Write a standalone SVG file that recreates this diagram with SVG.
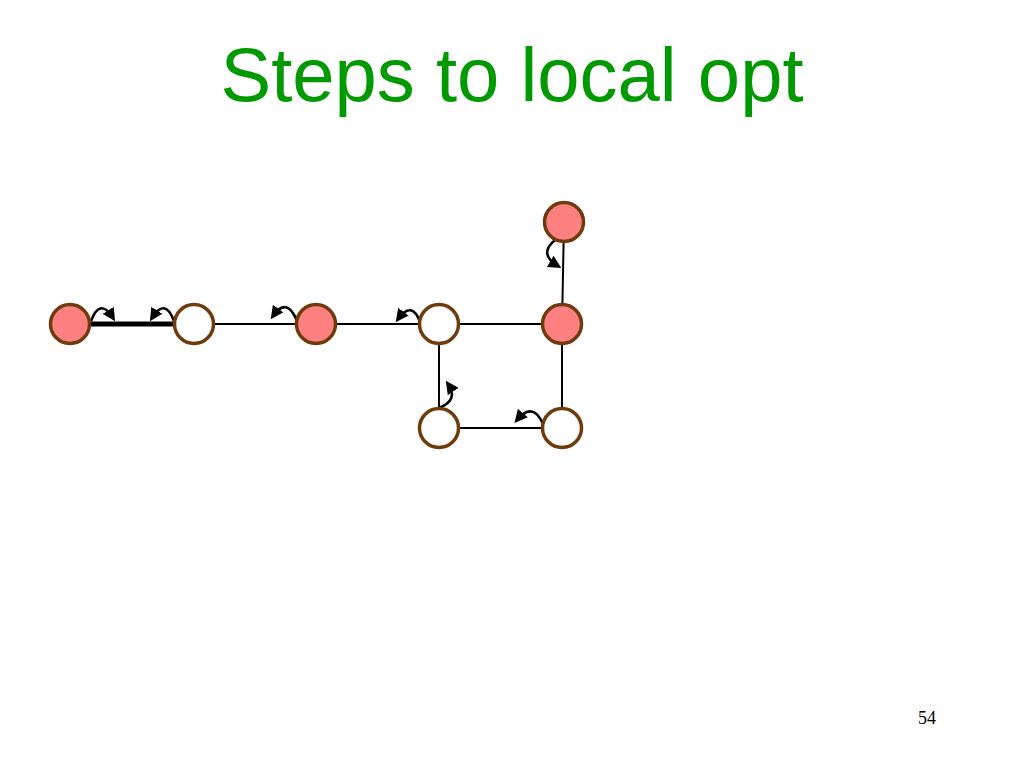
<svg xmlns="http://www.w3.org/2000/svg" width="1024" height="768" viewBox="0 0 1024 768">
<defs>
<style>
.node{stroke:#6E3B0C;stroke-width:3.5}
.pink{fill:#FF8080}
.white{fill:#FFFFFF}
.edge{stroke:#000;stroke-width:2;fill:none}
.thick{stroke-width:5}
.arr{stroke:#000;stroke-width:2.6;fill:none;marker-end:url(#ah)}
</style>
<marker id="ah" markerUnits="userSpaceOnUse" markerWidth="13" markerHeight="13" viewBox="0 0 10 10" refX="7" refY="5" orient="auto">
<path d="M0,0 L10,5 L0,10 Z" fill="#000"/>
</marker>
</defs>
<rect width="1024" height="768" fill="#fff"/>
<text x="512" y="101" text-anchor="middle" font-family="Liberation Sans, Arial, sans-serif" font-size="76" fill="#009900">Steps to local opt</text>
<text x="927" y="724" text-anchor="middle" font-family="Liberation Serif, Times New Roman, serif" font-size="18" fill="#000">54</text>
<g id="connectors">
<line class="edge thick" x1="70" y1="324" x2="194" y2="324"/>
<line class="edge" x1="194" y1="324" x2="316" y2="324"/>
<line class="edge" x1="316" y1="324" x2="439" y2="324"/>
<line class="edge" x1="439" y1="324" x2="562" y2="324"/>
<line class="edge" x1="562" y1="324" x2="564" y2="222"/>
<line class="edge" x1="439" y1="324" x2="439" y2="428"/>
<line class="edge" x1="439" y1="428" x2="562" y2="428"/>
<line class="edge" x1="562" y1="324" x2="562" y2="428"/>
<path class="arr" d="M91 321 Q100 297 113 318"/>
<path class="arr" d="M174 321 Q165 297 152 318"/>
<path class="arr" d="M297 321 Q287 296 273 316"/>
<path class="arr" d="M420 322 Q412 300 398 319"/>
<path class="arr" d="M555 240 Q538 254 558 266"/>
<path class="arr" d="M439 408 Q459 400 448 384"/>
<path class="arr" d="M543 424 Q533 401 517 420"/>
</g>
<g id="nA"><circle class="node pink" cx="70" cy="324" r="19.5"/></g>
<g id="nB"><circle class="node white" cx="194" cy="324" r="19.5"/></g>
<g id="nC"><circle class="node pink" cx="316" cy="324" r="19.5"/></g>
<g id="nD"><circle class="node white" cx="439" cy="324" r="19.5"/></g>
<g id="nE"><circle class="node pink" cx="562" cy="324" r="19.5"/></g>
<g id="nF"><circle class="node pink" cx="564" cy="222" r="19.5"/></g>
<g id="nG"><circle class="node white" cx="439" cy="428" r="19.5"/></g>
<g id="nH"><circle class="node white" cx="562" cy="428" r="19.5"/></g>
</svg>
